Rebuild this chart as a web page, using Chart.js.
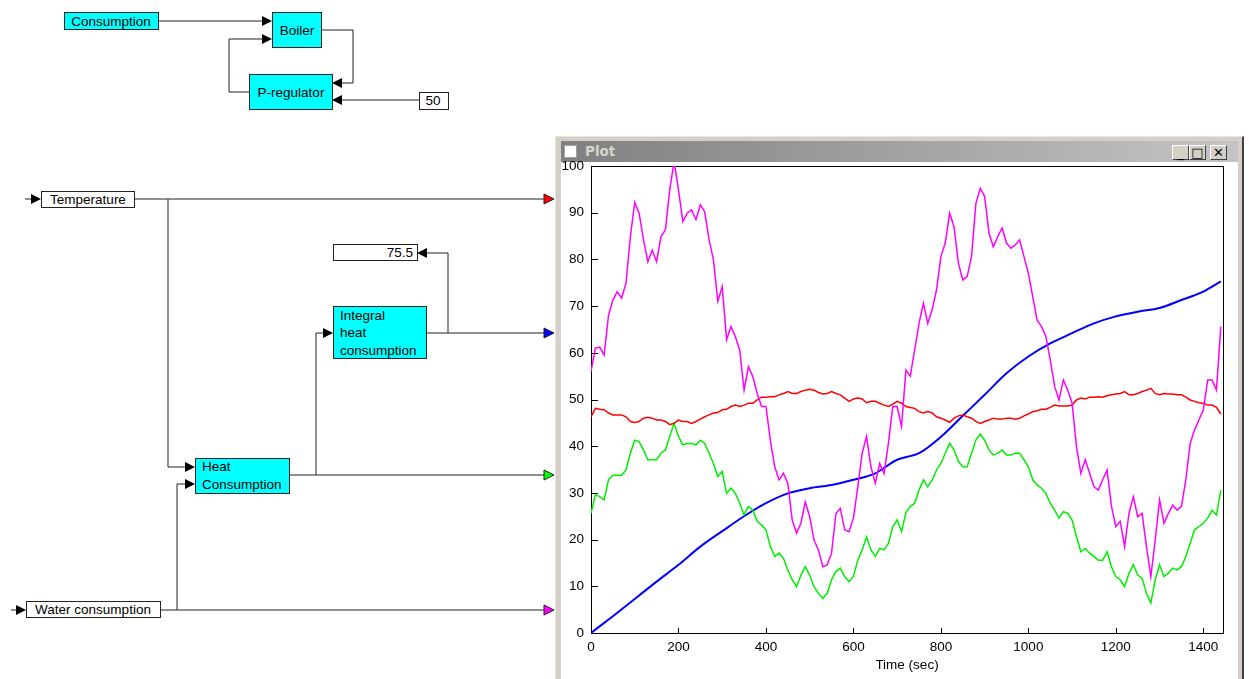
<!DOCTYPE html>
<html>
<head>
<meta charset="utf-8">
<script src="https://cdn.jsdelivr.net/npm/chart.js@4.4.1/dist/chart.umd.min.js"></script>
<style>
  html, body { margin: 0; padding: 0; background: #ffffff; width: 1249px; height: 679px; overflow: hidden; }
  body { position: relative; font-family: "Liberation Sans", Arial, sans-serif; }
  #diagram { position: absolute; left: 0; top: 0; }
  #diagram text { font-family: "Liberation Sans", Arial, sans-serif; font-size: 13.5px; fill: #000; }
  #win { position: absolute; left: 555px; top: 136px; width: 689px; height: 548px; background: #d4d0c8;
         border-left: 1px solid #e8e6e0; border-top: 1px solid #e8e6e0; border-right: 2px solid #404040; box-sizing: border-box; }
  #titlebar { position: absolute; left: 561px; top: 141px; width: 677px; height: 21px;
              background: linear-gradient(to right, #808080, #c4c4c4); }
  #titletext { position: absolute; left: 585px; top: 143px; font: bold 13.5px "DejaVu Sans", Tahoma, sans-serif; color: #d8d4cc; }
  #ticon { position: absolute; left: 564px; top: 145px; width: 13px; height: 13px; background: #fff; border: 1px solid #a0a0a0; box-sizing: border-box; }
  .btn { position: absolute; top: 145px; width: 17px; height: 15px; background: #d4d0c8; box-sizing: border-box;
         border-top: 1px solid #fff; border-left: 1px solid #fff; border-right: 1px solid #404040; border-bottom: 1px solid #404040;
         font: bold 13px "DejaVu Sans", sans-serif; color: #000; text-align: center; line-height: 13px; }
  #client { position: absolute; left: 561px; top: 162px; width: 677px; height: 520px; background: #fff; }
  #plotwrap { position: absolute; left: 559px; top: 155px; width: 680px; height: 518px; }
</style>
</head>
<body>
<svg id="diagram" width="1249" height="679" xmlns="http://www.w3.org/2000/svg">
  <g stroke="#222" stroke-width="1" fill="none">
    <polyline points="158,21 264,21"/>
    <polyline points="249,92 229,92 229,39 264,39"/>
    <polyline points="321,30 353,30 353,83 340,83"/>
    <polyline points="419,100 340,100"/>
    <polyline points="25,199 33,199"/>
    <polyline points="134,199 545,199"/>
    <polyline points="168,199 168,467 187,467"/>
    <polyline points="11,610 18,610"/>
    <polyline points="160,610 545,610"/>
    <polyline points="177,610 177,484 187,484"/>
    <polyline points="289,475 545,475"/>
    <polyline points="316,475 316,333 325,333"/>
    <polyline points="427,333 545,333"/>
    <polyline points="448,333 448,253 425,253"/>
  </g>
  <g fill="#000" stroke="none">
    <polygon points="272,21 262,16 262,26"/>
    <polygon points="272,39 262,34 262,44"/>
    <polygon points="332,83 342,78 342,88"/>
    <polygon points="332,100 342,95 342,105"/>
    <polygon points="41,199 31,194 31,204"/>
    <polygon points="195,467 185,462 185,472"/>
    <polygon points="26,610 16,605 16,615"/>
    <polygon points="195,484 185,479 185,489"/>
    <polygon points="333,333 323,328 323,338"/>
    <polygon points="417,253 427,248 427,258"/>
  </g>
  <g stroke="#222" stroke-width="1">
    <polygon points="554,199 544,194 544,204" fill="#ff0000"/>
    <polygon points="554,333 544,328 544,338" fill="#0000ff"/>
    <polygon points="554,475 544,470 544,480" fill="#00ff00"/>
    <polygon points="554,610 544,605 544,615" fill="#ff00ff"/>
  </g>
  <g stroke="#222" stroke-width="1">
    <rect x="64.5" y="12.5" width="94" height="17" fill="#00ffff"/>
    <rect x="272.5" y="12.5" width="49" height="35" fill="#00ffff"/>
    <rect x="249.5" y="74.5" width="83" height="35" fill="#00ffff"/>
    <rect x="419.5" y="92.5" width="29" height="17" fill="#ffffff"/>
    <rect x="41.5" y="191.5" width="93" height="16" fill="#ffffff"/>
    <rect x="333.5" y="244.5" width="84" height="16" fill="#ffffff"/>
    <rect x="333.5" y="306.5" width="93" height="52" fill="#00ffff"/>
    <rect x="195.5" y="458.5" width="94" height="35" fill="#00ffff"/>
    <rect x="26.5" y="601.5" width="134" height="16" fill="#ffffff"/>
  </g>
  <text x="111" y="26" text-anchor="middle">Consumption</text>
  <text x="297" y="35" text-anchor="middle">Boiler</text>
  <text x="291" y="97" text-anchor="middle">P-regulator</text>
  <text x="433" y="105" text-anchor="middle">50</text>
  <text x="88" y="204" text-anchor="middle">Temperature</text>
  <text x="413" y="257" text-anchor="end">75.5</text>
  <text x="340" y="320">Integral</text>
  <text x="340" y="337">heat</text>
  <text x="340" y="355">consumption</text>
  <text x="202" y="471">Heat</text>
  <text x="202" y="489">Consumption</text>
  <text x="93" y="614" text-anchor="middle">Water consumption</text>
</svg>

<div id="win"></div>
<div id="titlebar"></div>
<div id="ticon"></div>
<div id="titletext">Plot</div>
<div class="btn" style="left:1172px;">_</div>
<div class="btn" style="left:1189px;">&#9633;</div>
<div class="btn" style="left:1210px;">&#10005;</div>
<div id="client"></div>
<div id="plotwrap"><canvas id="plot" width="680" height="518"></canvas></div>

<script>
// ---- data ----
const timeFine = [];
for (let t = 0; t <= 1440; t += 10) timeFine.push(t);

const waterConsumption = [56,61,61.2,59.5,68,71.3,73.1,71.7,74.9,84.9,
  92.2,89.9,84.2,79.5,82,79.5,84.9,86.3,94.9,101,
  94.9,88.1,89.9,90.6,88.5,91.7,90.2,84.2,79.9,71,
  74.2,62.8,65.6,63.5,60.6,52,57,54.9,51.3,48.5,
  48.5,41.3,35.6,32.8,34.2,32.1,24.2,21.4,23.5,28.1,
  24.9,19.9,17.8,14.2,14.6,17.1,25.6,26.7,22.1,21.7,
  24.6,31.3,38.5,42.1,35.6,32.1,36.3,34.2,40.6,48.5,
  48.5,44.2,56.3,55,60.6,66.3,70.6,66.3,69.2,73.5,
  80.6,83.5,89.9,87,79.2,75.6,76.3,80.6,92,95.2,
  93.5,85.6,82.7,84.9,86.7,83.5,82.4,83.1,84.2,80.6,
  77,72,67,65.6,63.5,58.5,52.8,49.9,54.2,52,
  49.2,39.9,34.2,37.1,34.2,31.3,30.6,32.8,34.9,27.1,
  22.8,23.9,18.5,25.6,29.2,24.9,25.6,18.5,12.1,19.9,
  28.5,23.5,25.6,27.4,26.3,27.1,32.8,40.6,43.5,45.6,
  47.8,54.2,54.2,52,65.6];

const heatConsumption = [25.6,29.6,29.2,28.5,32.8,33.8,33.8,33.8,34.9,38.5,
  41.3,41,39.2,37.1,37.1,37.1,38.5,39.2,42.1,44.9,
  42.1,40.3,40.6,40.6,40.3,41.3,40.6,38.5,36.3,33.5,
  34.6,29.9,31,29.9,27.8,25.3,27.1,26.3,23.9,23.1,
  22.1,18.5,16.4,17.1,16,13.5,11.4,9.9,12.4,14.2,
  12.4,9.9,8.5,7.4,8.5,11.4,13.2,13.9,12.1,11,
  12.1,15.6,17.8,20.6,17.8,16.4,18.1,17.8,19.2,22.8,
  24.2,21.7,25.8,27.1,27.8,30.6,32.8,31.3,32.8,34.9,
  36.3,38.5,40.6,39.2,36.7,35.6,35.6,38.5,41.3,42.6,
  41.3,39.2,38.1,38.5,39.2,38.1,38.1,38.5,38.5,37.1,
  35.6,32.8,31.7,31,29.9,27.8,26.3,24.6,26,25.6,
  24.2,20.6,17.4,18.1,17.1,16.4,15.6,15.6,17.4,14.2,
  12.1,11.4,9.9,12.8,14.6,12.4,11.7,8.5,6.4,11.4,
  14.6,12.1,12.8,13.9,13.5,14.2,16.4,19.2,22.1,22.8,
  23.5,24.6,26.3,25.3,30.6];

const temperature = [46.3,48.1,47.9,47.8,47.1,46.7,46.7,46.7,46.3,45.3,
  45.1,45.3,46,46.2,46,45.6,45.6,45.3,44.6,44.9,
  45.6,45.3,45.3,44.9,45.3,45.8,46.3,46.7,47.1,47.2,
  47.8,47.9,48.5,48.8,48.5,48.8,49.2,49.2,49.9,50.5,
  50.5,50.6,50.6,51,51.3,51.7,51.3,51.3,51.7,52,
  52.2,52,51.5,51.2,51.3,51.7,51.3,51,50.3,49.6,
  50.1,50.3,50.1,49.3,49.6,49.6,49.2,48.8,48.5,49,
  49.6,49.2,48.5,48.3,48.1,47.4,47.1,47.4,47.1,46.3,
  46,45.6,45.1,46,46.5,46.7,46.3,46,45.3,44.9,
  45.3,45.6,46,45.8,45.8,46,46,45.8,46,46.5,
  46.9,47.4,47.6,47.9,47.9,48.3,48.8,48.6,48.6,48.6,
  48.8,49.9,50.3,50.1,50.5,50.5,50.6,50.5,50.8,51,
  51.2,51.3,51.7,51,51,51.3,51.7,52,52.4,51.3,
  51,51.3,51.2,51.2,51,51,50.5,49.9,49.6,49.3,
  49.2,48.8,48.8,48.3,46.9];

const timeCoarse = [0,50,100,150,200,250,300,350,400,450,500,550,600,650,700,750,800,850,900,950,1000,1050,1100,1150,1200,1250,1300,1350,1400,1440];
const integralHeat = [0,3.6,7.3,11,14.6,18.5,21.8,25,27.8,29.9,31,31.7,32.8,34.2,37.1,38.5,42,46.5,51,55.6,59.2,62,64.2,66.3,67.8,68.8,69.6,71.3,73.1,75.3];

const xTicks = [0,200,400,600,800,1000,1200,1400];
const yTicks = [0,10,20,30,40,50,60,70,80,90,100];

function pts(xs, ys) { return xs.map((x, i) => ({ x: x, y: ys[i] })); }

const frame = {
  id: 'frame',
  beforeDatasetsDraw(chart) {
    const { ctx, chartArea: a, scales } = chart;
    ctx.save();
    ctx.strokeStyle = '#000';
    ctx.lineWidth = 1;
    ctx.strokeRect(Math.round(a.left) + 0.5, Math.round(a.top) + 0.5,
                   Math.round(a.right - a.left), Math.round(a.bottom - a.top));
    ctx.beginPath();
    yTicks.forEach(v => {
      const y = Math.round(scales.y.getPixelForValue(v)) + 0.5;
      ctx.moveTo(a.left, y); ctx.lineTo(a.left + 7, y);
    });
    xTicks.forEach(v => {
      const x = Math.round(scales.x.getPixelForValue(v)) + 0.5;
      ctx.moveTo(x, a.bottom); ctx.lineTo(x, a.bottom - 5);
    });
    ctx.stroke();
    ctx.restore();
  }
};

const tickFont = { family: '"Liberation Sans", Arial, sans-serif', size: 13.5 };

new Chart(document.getElementById('plot'), {
  type: 'line',
  data: {
    datasets: [
      { label: 'Water consumption', data: pts(timeFine, waterConsumption), borderColor: '#ff00ff', borderWidth: 1.5, pointRadius: 0, tension: 0 },
      { label: 'Temperature', data: pts(timeFine, temperature), borderColor: '#ff0000', borderWidth: 1.5, pointRadius: 0, tension: 0 },
      { label: 'Heat consumption', data: pts(timeFine, heatConsumption), borderColor: '#00ee00', borderWidth: 1.5, pointRadius: 0, tension: 0 },
      { label: 'Integral heat consumption', data: pts(timeCoarse, integralHeat), borderColor: '#0000ff', borderWidth: 2, pointRadius: 0, cubicInterpolationMode: 'monotone' }
    ]
  },
  options: {
    responsive: false,
    animation: false,
    events: [],
    layout: { padding: { left: 0, right: 16, top: 11, bottom: 0 } },
    plugins: { legend: { display: false }, tooltip: { enabled: false } },
    scales: {
      x: {
        type: 'linear', min: 0, max: 1445,
        afterFit(s) { s.height = 40; s.paddingLeft = 0; s.paddingRight = 0; },
        afterBuildTicks(s) { s.ticks = xTicks.map(v => ({ value: v })); },
        grid: { display: false, drawTicks: false },
        border: { display: false },
        ticks: { color: '#000', font: tickFont, padding: 6, maxRotation: 0, autoSkip: false, callback: v => String(v) },
        title: { display: true, text: 'Time (sec)', color: '#000', font: tickFont, padding: { top: 1, bottom: 0 } }
      },
      y: {
        min: 0, max: 100,
        afterFit(s) { s.width = 32; s.paddingTop = 0; s.paddingBottom = 0; },
        afterBuildTicks(s) { s.ticks = yTicks.map(v => ({ value: v })); },
        grid: { display: false, drawTicks: false },
        border: { display: false },
        ticks: { color: '#000', font: tickFont, padding: 7, autoSkip: false, callback: v => String(v) }
      }
    }
  },
  plugins: [frame]
});
</script>
</body>
</html>
